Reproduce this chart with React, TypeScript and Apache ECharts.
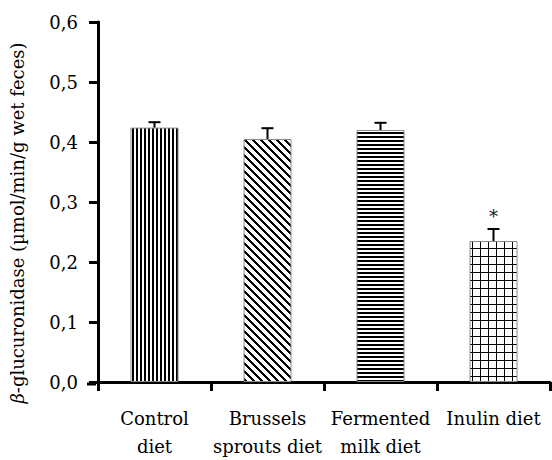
import React, { useEffect, useRef } from "react";
import * as echarts from "echarts";

const categories = ["Control\ndiet", "Brussels\nsprouts diet", "Fermented\nmilk diet", "Inulin diet"];
const means = [0.424, 0.405, 0.42, 0.235];
const errors = [0.009, 0.018, 0.012, 0.02];
const marks = ["", "", "", "*"];
const yTicks = [0, 0.1, 0.2, 0.3, 0.4, 0.5, 0.6];

function makeTile(w: number, h: number, black: (x: number, y: number) => boolean): string {
  const c = document.createElement("canvas");
  c.width = w;
  c.height = h;
  const ctx = c.getContext("2d")!;
  const img = ctx.createImageData(w, h);
  for (let y = 0; y < h; y++) {
    for (let x = 0; x < w; x++) {
      const i = (y * w + x) * 4;
      const v = black(x, y) ? 0 : 255;
      img.data[i] = v;
      img.data[i + 1] = v;
      img.data[i + 2] = v;
      img.data[i + 3] = 255;
    }
  }
  ctx.putImageData(img, 0, 0);
  return c.toDataURL("image/png");
}

export default function App() {
  const ref = useRef<HTMLDivElement>(null);
  useEffect(() => {
    if (!ref.current) return;
    const chart = echarts.init(ref.current, undefined, { renderer: "svg" });
    const tiles = [
      { image: makeTile(4, 4, (x) => x < 2), w: 4, h: 4 },
      { image: makeTile(8, 8, (x, y) => (((x - y) % 8) + 8) % 8 < 3), w: 8, h: 8 },
      { image: makeTile(4, 4, (_x, y) => y < 2), w: 4, h: 4 },
      { image: makeTile(8, 8, (x, y) => x === 0 || y === 0), w: 8, h: 8 },
    ];
    const serif = "DejaVu Serif";
    chart.setOption({
      animation: false,
      textStyle: { fontFamily: serif },
      grid: { left: 95, right: 2, top: 22, bottom: 76, containLabel: false },
      xAxis: {
        type: "category",
        data: categories,
        boundaryGap: true,
        axisLine: { show: true, lineStyle: { color: "#000", width: 3 } },
        axisTick: { show: true, alignWithLabel: false, length: 9, lineStyle: { color: "#000", width: 3 } },
        axisLabel: { color: "#000", fontFamily: serif, fontSize: 18, lineHeight: 28, margin: 22, interval: 0 },
        splitLine: { show: false },
      },
      yAxis: {
        type: "value",
        min: 0,
        max: 0.6,
        interval: 0.1,
        name: "{b|β}-glucuronidase (µmol/min/g wet feces)",
        nameLocation: "middle",
        nameGap: 72,
        nameTextStyle: {
          color: "#000",
          fontFamily: serif,
          fontSize: 18,
          padding: [0, 42, 0, 0],
          rich: { b: { fontStyle: "italic", fontFamily: serif, fontSize: 18, color: "#000" } },
        },
        axisLine: { show: true, lineStyle: { color: "#000", width: 3 } },
        axisTick: { show: true, length: 9, lineStyle: { color: "#000", width: 3 } },
        axisLabel: {
          color: "#000",
          fontFamily: serif,
          fontSize: 18,
          margin: 20,
          formatter: (v: number) => {
            const t = yTicks.find((k) => Math.abs(k - v) < 1e-6);
            return (t !== undefined ? t : v).toFixed(1).replace(".", ",");
          },
        },
        splitLine: { show: false },
      },
      graphic: [
        { type: "line", shape: { x1: 87, y1: 384, x2: 96, y2: 384 }, style: { stroke: "#000", lineWidth: 3 }, z: 100 },
      ],
      series: [
        {
          type: "bar",
          barWidth: 48,
          data: means.map((v, i) => ({
            value: v,
            itemStyle: {
              color: { image: tiles[i].image, repeat: "repeat", imageWidth: tiles[i].w, imageHeight: tiles[i].h },
              borderColor: "#8a8a8a",
              borderWidth: 1,
            },
          })),
          z: 2,
        },
        {
          type: "custom",
          z: 3,
          data: means.map((v, i) => [i, v, errors[i]]),
          renderItem: (params: any, api: any) => {
            const i = api.value(0);
            const m = api.value(1);
            const e = api.value(2);
            const p0 = api.coord([i, m]);
            const p1 = api.coord([i, m + e]);
            const children: any[] = [
              { type: "line", shape: { x1: p0[0], y1: p0[1], x2: p1[0], y2: p1[1] }, style: { stroke: "#000", lineWidth: 2 } },
              { type: "line", shape: { x1: p1[0] - 6, y1: p1[1], x2: p1[0] + 6, y2: p1[1] }, style: { stroke: "#000", lineWidth: 2 } },
            ];
            const mk = marks[params.dataIndex];
            if (mk) {
              children.push({
                type: "text",
                style: {
                  text: mk,
                  x: p1[0],
                  y: p1[1] - 13,
                  align: "center",
                  verticalAlign: "middle",
                  fontFamily: serif,
                  fontSize: 18,
                  fill: "#222",
                },
              });
            }
            return { type: "group", children };
          },
        },
      ],
    });
    return () => chart.dispose();
  }, []);
  return <div ref={ref} style={{ width: 552, height: 460, position: "absolute", left: 0, top: 0, background: "#fff" }} />;
}
